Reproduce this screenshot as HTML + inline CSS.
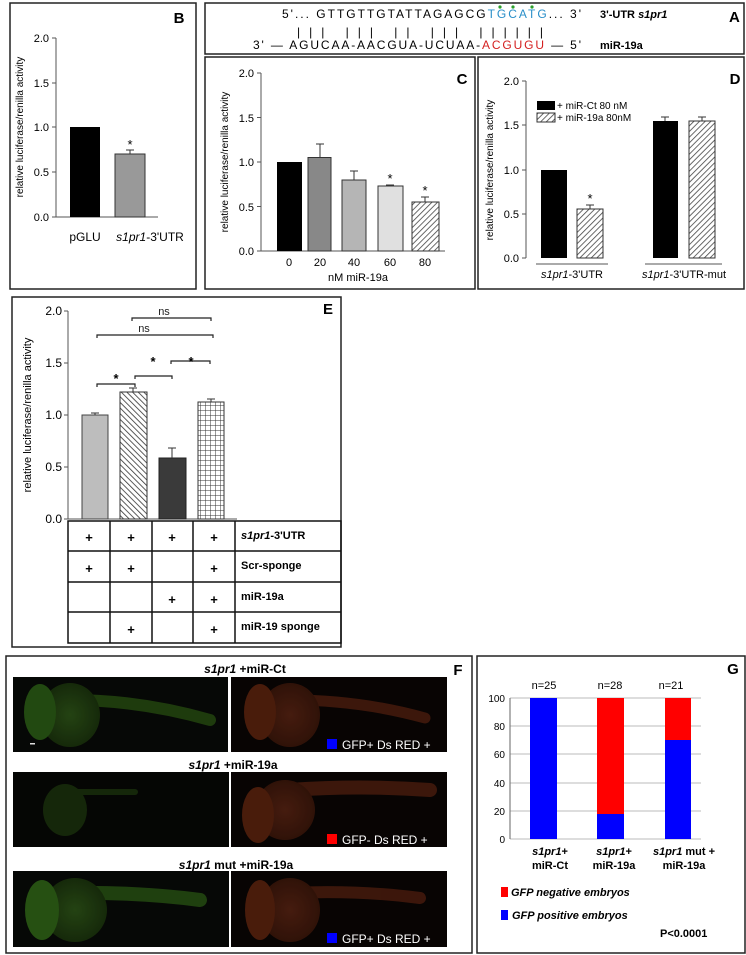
<!DOCTYPE html>
<html><head><meta charset="utf-8"><style>
html,body{margin:0;padding:0;background:#fff}
svg{display:block}
text{font-family:"Liberation Sans",Arial,sans-serif}
</style></head><body>
<svg width="746" height="955" viewBox="0 0 746 955" xmlns="http://www.w3.org/2000/svg">
<defs>
<pattern id="h1" width="4" height="4" patternUnits="userSpaceOnUse" patternTransform="rotate(45)"><rect width="4" height="4" fill="#fff"/><line x1="0" y1="0" x2="0" y2="4" stroke="#444" stroke-width="1.6"/></pattern>
<pattern id="h2" width="4" height="4" patternUnits="userSpaceOnUse" patternTransform="rotate(-45)"><rect width="4" height="4" fill="#fff"/><line x1="0" y1="0" x2="0" y2="4" stroke="#333" stroke-width="1.6"/></pattern>
<pattern id="grid" width="5" height="5" patternUnits="userSpaceOnUse"><rect width="5" height="5" fill="#fff"/><path d="M0 0H5M0 0V5" stroke="#333" stroke-width="1"/></pattern>
<radialGradient id="gg" cx="0.5" cy="0.5" r="0.5"><stop offset="0" stop-color="#2c5216"/><stop offset="1" stop-color="#1a320c"/></radialGradient>
<radialGradient id="rg" cx="0.5" cy="0.5" r="0.5"><stop offset="0" stop-color="#552212"/><stop offset="1" stop-color="#3a160a"/></radialGradient>
</defs>
<g fill="none" stroke="#222" stroke-width="1.5">
<rect x="10" y="3" width="186" height="286"/>
<rect x="205" y="3" width="539" height="51"/>
<rect x="205" y="57" width="270" height="232"/>
<rect x="478" y="57" width="266" height="232"/>
<rect x="12" y="297" width="329" height="350"/>
<rect x="6" y="656" width="466" height="297"/>
<rect x="477" y="656" width="268" height="297"/>
</g>

<!-- B -->
<text x="179" y="23" font-size="15" font-weight="bold" text-anchor="middle">B</text>
<g stroke="#555" stroke-width="1"><line x1="56" y1="38" x2="56" y2="217"/><line x1="56" y1="217" x2="158" y2="217"/>
<line x1="52" y1="38" x2="56" y2="38"/><line x1="52" y1="83" x2="56" y2="83"/><line x1="52" y1="127" x2="56" y2="127"/><line x1="52" y1="172" x2="56" y2="172"/><line x1="52" y1="217" x2="56" y2="217"/></g>
<g font-size="11" text-anchor="end"><text x="49" y="42">2.0</text><text x="49" y="87">1.5</text><text x="49" y="131">1.0</text><text x="49" y="176">0.5</text><text x="49" y="221">0.0</text></g>
<text transform="translate(23,127) rotate(-90)" font-size="10" text-anchor="middle">relative luciferase/renilla activity</text>
<rect x="70" y="127" width="30" height="90" fill="#000"/>
<rect x="115" y="154" width="30" height="63" fill="#999" stroke="#333"/>
<path d="M130 154V150M126 150H134" stroke="#333"/>
<text x="130" y="149" font-size="13" text-anchor="middle">*</text>
<text x="85" y="241" font-size="12" text-anchor="middle">pGLU</text>
<text x="150" y="241" font-size="12" text-anchor="middle"><tspan font-style="italic">s1pr1</tspan>-3'UTR</text>

<!-- A -->
<g font-size="12">
<text x="282" y="18" textLength="299" lengthAdjust="spacing">5'... GTTGTTGTATTAGAGCG<tspan fill="#2a8fc9">TGCATG</tspan>... 3'</text>
<text x="253" y="49" textLength="328" lengthAdjust="spacing">3' — AGUCAA-AACGUA-UCUAA-<tspan fill="#d42020">ACGUGU</tspan> — 5'</text>
<text x="297" y="36" textLength="246" lengthAdjust="spacing">|||  |||  ||  |||       ||||||</text>
</g>
<text x="600" y="18" font-size="11" font-weight="bold">3'-UTR <tspan font-style="italic">s1pr1</tspan></text>
<text x="600" y="49" font-size="11" font-weight="bold">miR-19a</text>
<text x="729" y="22" font-size="15" font-weight="bold">A</text>
<g fill="#2ca02c"><circle cx="500" cy="7" r="1.6"/><circle cx="513" cy="7" r="1.6"/><circle cx="532" cy="7" r="1.6"/></g>

<!-- C -->
<text x="462" y="84" font-size="15" font-weight="bold" text-anchor="middle">C</text>
<g stroke="#555" stroke-width="1"><line x1="261" y1="73" x2="261" y2="251"/><line x1="261" y1="251" x2="445" y2="251"/>
<line x1="257" y1="73" x2="261" y2="73"/><line x1="257" y1="117.5" x2="261" y2="117.5"/><line x1="257" y1="162" x2="261" y2="162"/><line x1="257" y1="206.5" x2="261" y2="206.5"/><line x1="257" y1="251" x2="261" y2="251"/></g>
<g font-size="11" text-anchor="end"><text x="254" y="77">2.0</text><text x="254" y="122">1.5</text><text x="254" y="166">1.0</text><text x="254" y="211">0.5</text><text x="254" y="255">0.0</text></g>
<text transform="translate(228,162) rotate(-90)" font-size="10" text-anchor="middle">relative luciferase/renilla activity</text>
<rect x="277" y="162" width="25" height="89" fill="#000"/>
<rect x="308" y="157.5" width="23" height="93.5" fill="#888" stroke="#333"/>
<path d="M320 157V144M316 144H324" stroke="#333"/>
<rect x="342" y="180" width="24" height="71" fill="#b5b5b5" stroke="#333"/>
<path d="M354 180V171M350 171H358" stroke="#333"/>
<rect x="378" y="186" width="25" height="65" fill="#e0e0e0" stroke="#333"/>
<path d="M390 186V185M386 185H394" stroke="#333"/>
<rect x="412" y="202" width="27" height="49" fill="url(#h1)" stroke="#333"/>
<path d="M425 202V197M421 197H429" stroke="#333"/>
<text x="390" y="183" font-size="13" text-anchor="middle">*</text>
<text x="425" y="195" font-size="13" text-anchor="middle">*</text>
<g font-size="11" text-anchor="middle"><text x="289" y="266">0</text><text x="320" y="266">20</text><text x="354" y="266">40</text><text x="390" y="266">60</text><text x="425" y="266">80</text>
<text x="358" y="281">nM miR-19a</text></g>

<!-- D -->
<text x="735" y="84" font-size="15" font-weight="bold" text-anchor="middle">D</text>
<g stroke="#555" stroke-width="1"><line x1="526" y1="81" x2="526" y2="258"/>
<line x1="522" y1="81" x2="526" y2="81"/><line x1="522" y1="125" x2="526" y2="125"/><line x1="522" y1="170" x2="526" y2="170"/><line x1="522" y1="214" x2="526" y2="214"/><line x1="522" y1="258" x2="526" y2="258"/>
<line x1="536" y1="264" x2="608" y2="264"/><line x1="645" y1="264" x2="722" y2="264"/></g>
<g font-size="11" text-anchor="end"><text x="519" y="85">2.0</text><text x="519" y="129">1.5</text><text x="519" y="174">1.0</text><text x="519" y="218">0.5</text><text x="519" y="262">0.0</text></g>
<text transform="translate(493,170) rotate(-90)" font-size="10" text-anchor="middle">relative luciferase/renilla activity</text>
<rect x="537" y="101" width="18" height="9" fill="#000"/>
<rect x="537" y="113" width="18" height="9" fill="url(#h1)" stroke="#333"/>
<text x="557" y="109" font-size="10">+ miR-Ct  80 nM</text>
<text x="557" y="121" font-size="10">+ miR-19a 80nM</text>
<rect x="541" y="170" width="26" height="88" fill="#000"/>
<rect x="577" y="209" width="26" height="49" fill="url(#h1)" stroke="#333"/>
<path d="M590 209V205M586 205H594" stroke="#333"/>
<text x="590" y="203" font-size="13" text-anchor="middle">*</text>
<rect x="653" y="121" width="25" height="137" fill="#000"/>
<path d="M665 121V117M661 117H669" stroke="#333"/>
<rect x="689" y="121" width="26" height="137" fill="url(#h1)" stroke="#333"/>
<path d="M702 121V117M698 117H706" stroke="#333"/>
<text x="572" y="278" font-size="11" text-anchor="middle"><tspan font-style="italic">s1pr1</tspan>-3'UTR</text>
<text x="684" y="278" font-size="11" text-anchor="middle"><tspan font-style="italic">s1pr1</tspan>-3'UTR-mut</text>

<!-- E -->
<text x="328" y="314" font-size="15" font-weight="bold" text-anchor="middle">E</text>
<g stroke="#555" stroke-width="1"><line x1="68" y1="311" x2="68" y2="519"/><line x1="68" y1="519" x2="237" y2="519"/>
<line x1="64" y1="311" x2="68" y2="311"/><line x1="64" y1="363" x2="68" y2="363"/><line x1="64" y1="415" x2="68" y2="415"/><line x1="64" y1="467" x2="68" y2="467"/><line x1="64" y1="519" x2="68" y2="519"/></g>
<g font-size="12" text-anchor="end"><text x="62" y="315">2.0</text><text x="62" y="367">1.5</text><text x="62" y="419">1.0</text><text x="62" y="471">0.5</text><text x="62" y="523">0.0</text></g>
<text transform="translate(31,415) rotate(-90)" font-size="11" text-anchor="middle">relative luciferase/renilla activity</text>
<rect x="82" y="415" width="26" height="104" fill="#bdbdbd" stroke="#444"/>
<path d="M95 415V413M91 413H99" stroke="#333"/>
<rect x="120" y="392" width="27" height="127" fill="url(#h2)" stroke="#333"/>
<path d="M133 392V388M129 388H137" stroke="#333"/>
<rect x="159" y="458" width="27" height="61" fill="#3a3a3a" stroke="#222"/>
<path d="M172 458V448M168 448H176" stroke="#333"/>
<rect x="198" y="402" width="26" height="117" fill="url(#grid)" stroke="#333"/>
<path d="M211 402V399M207 399H215" stroke="#333"/>
<g fill="none" stroke="#222" stroke-width="1.2">
<path d="M132 321V318H211V321"/>
<path d="M97 338V335H213V338"/>
<path d="M97 387V384H135V387"/>
<path d="M135 379V376H172V379"/>
<path d="M171 364V361H210V364"/>
</g>
<g font-size="11" text-anchor="middle" fill="#222"><text x="164" y="315">ns</text><text x="144" y="332">ns</text></g>
<g font-size="13" font-weight="bold" text-anchor="middle"><text x="116" y="383">*</text><text x="153" y="366">*</text><text x="191" y="366">*</text></g>
<g fill="none" stroke="#111" stroke-width="1.5">
<rect x="68" y="521" width="273" height="122"/>
<line x1="68" y1="551" x2="341" y2="551"/><line x1="68" y1="582" x2="341" y2="582"/><line x1="68" y1="612" x2="341" y2="612"/>
<line x1="110" y1="521" x2="110" y2="643"/><line x1="152" y1="521" x2="152" y2="643"/><line x1="193" y1="521" x2="193" y2="643"/><line x1="235" y1="521" x2="235" y2="643"/>
</g>
<g font-size="13" font-weight="bold" text-anchor="middle">
<text x="89" y="542">+</text><text x="131" y="542">+</text><text x="172" y="542">+</text><text x="214" y="542">+</text>
<text x="89" y="573">+</text><text x="131" y="573">+</text><text x="214" y="573">+</text>
<text x="172" y="604">+</text><text x="214" y="604">+</text>
<text x="131" y="634">+</text><text x="214" y="634">+</text>
</g>
<g font-size="11" font-weight="bold"><text x="241" y="539"><tspan font-style="italic">s1pr1</tspan>-3'UTR</text><text x="241" y="569">Scr-sponge</text><text x="241" y="600">miR-19a</text><text x="241" y="630">miR-19 sponge</text></g>

<!-- F -->
<text x="458" y="675" font-size="15" font-weight="bold" text-anchor="middle">F</text>
<g font-size="12" font-weight="bold" text-anchor="middle">
<text x="245" y="673"><tspan font-style="italic">s1pr1</tspan> +miR-Ct</text>
<text x="233" y="769"><tspan font-style="italic">s1pr1</tspan> +miR-19a</text>
<text x="236" y="869"><tspan font-style="italic">s1pr1</tspan> mut +miR-19a</text>
</g>
<g>
<rect x="13" y="677" width="215" height="75" fill="#060806"/>
<rect x="231" y="677" width="216" height="75" fill="#080403"/>
<rect x="13" y="772" width="216" height="75" fill="#050604"/>
<rect x="231" y="772" width="216" height="75" fill="#080403"/>
<rect x="13" y="871" width="216" height="76" fill="#060806"/>
<rect x="231" y="871" width="216" height="76" fill="#080403"/>
</g>
<g opacity="0.8">
<path d="M70 700 Q140 700 210 720" stroke="#24480f" stroke-width="12" fill="none" stroke-linecap="round"/>
<ellipse cx="70" cy="715" rx="30" ry="32" fill="url(#gg)"/><ellipse cx="40" cy="712" rx="16" ry="28" fill="#2a5a14"/>
<path d="M290 700 Q360 700 425 718" stroke="#4a1c0e" stroke-width="11" fill="none" stroke-linecap="round"/>
<ellipse cx="290" cy="715" rx="30" ry="32" fill="url(#rg)"/><ellipse cx="260" cy="712" rx="16" ry="28" fill="#5a220e"/>
<path d="M60 792 L135 792" stroke="#1a300c" stroke-width="6" fill="none" stroke-linecap="round"/>
<ellipse cx="65" cy="810" rx="22" ry="26" fill="#1a300c"/>
<path d="M290 790 Q360 785 430 790" stroke="#4a1c0e" stroke-width="14" fill="none" stroke-linecap="round"/>
<ellipse cx="285" cy="810" rx="30" ry="30" fill="url(#rg)"/><ellipse cx="258" cy="815" rx="16" ry="28" fill="#5a220e"/>
<path d="M70 893 Q140 892 200 900" stroke="#264e12" stroke-width="14" fill="none" stroke-linecap="round"/>
<ellipse cx="75" cy="910" rx="32" ry="32" fill="url(#gg)"/><ellipse cx="42" cy="910" rx="17" ry="30" fill="#2e6216"/>
<path d="M290 893 Q360 890 420 898" stroke="#4a1c0e" stroke-width="12" fill="none" stroke-linecap="round"/>
<ellipse cx="290" cy="910" rx="30" ry="32" fill="url(#rg)"/><ellipse cx="260" cy="910" rx="15" ry="30" fill="#5a220e"/>
</g>
<rect x="30" y="743" width="5" height="1.5" fill="#ddd"/>
<rect x="327" y="739" width="10" height="10" fill="#00f"/>
<rect x="327" y="834" width="10" height="10" fill="#f00"/>
<rect x="327" y="933" width="10" height="10" fill="#00f"/>
<g font-size="12" fill="#fff"><text x="342" y="749">GFP+ Ds RED +</text><text x="342" y="844">GFP- Ds RED +</text><text x="342" y="943">GFP+ Ds RED +</text></g>

<!-- G -->
<text x="733" y="674" font-size="15" font-weight="bold" text-anchor="middle">G</text>
<g stroke="#bbb" stroke-width="1"><line x1="510" y1="698" x2="701" y2="698"/><line x1="510" y1="726" x2="701" y2="726"/><line x1="510" y1="754" x2="701" y2="754"/><line x1="510" y1="783" x2="701" y2="783"/><line x1="510" y1="811" x2="701" y2="811"/><line x1="510" y1="839" x2="701" y2="839"/></g>
<g stroke="#666" stroke-width="1"><line x1="510" y1="698" x2="510" y2="839"/></g>
<g font-size="10" text-anchor="end"><text x="505" y="702">100</text><text x="505" y="730">80</text><text x="505" y="758">60</text><text x="505" y="787">40</text><text x="505" y="815">20</text><text x="505" y="843">0</text></g>
<rect x="530" y="698" width="27" height="141" fill="#0000ff"/>
<rect x="597" y="698" width="27" height="116" fill="#ff0000"/>
<rect x="597" y="814" width="27" height="25" fill="#0000ff"/>
<rect x="665" y="698" width="26" height="42" fill="#ff0000"/>
<rect x="665" y="740" width="26" height="99" fill="#0000ff"/>
<g font-size="11" text-anchor="middle"><text x="544" y="689">n=25</text><text x="610" y="689">n=28</text><text x="671" y="689">n=21</text></g>
<g font-size="11" font-weight="bold" text-anchor="middle">
<text x="550" y="855"><tspan font-style="italic">s1pr1</tspan>+</text><text x="550" y="869">miR-Ct</text>
<text x="614" y="855"><tspan font-style="italic">s1pr1</tspan>+</text><text x="614" y="869">miR-19a</text>
<text x="684" y="855"><tspan font-style="italic">s1pr1</tspan> mut +</text><text x="684" y="869">miR-19a</text>
</g>
<rect x="501" y="887" width="7" height="10" fill="#f00"/>
<rect x="501" y="910" width="7" height="10" fill="#00f"/>
<g font-size="11" font-weight="bold" font-style="italic"><text x="511" y="896">GFP negative embryos</text><text x="512" y="919">GFP positive embryos</text></g>
<text x="660" y="937" font-size="11" font-weight="bold">P&lt;0.0001</text>
</svg>
</body></html>
